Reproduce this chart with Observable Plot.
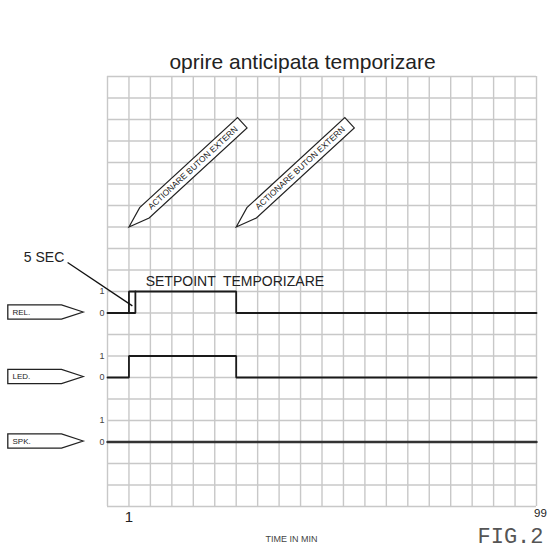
<!DOCTYPE html>
<html><head><meta charset="utf-8">
<script src="https://cdn.jsdelivr.net/npm/d3@7"></script>
<script src="https://cdn.jsdelivr.net/npm/@observablehq/plot@0.6"></script>
<style>
html,body{margin:0;padding:0;background:#fff;}
svg text{white-space:pre;}
</style></head><body><div id="chart"></div>
<script>
// ---- data ----
const title = "oprire anticipata temporizare";
const signals = ["REL.", "LED.", "SPK."];
const signalBase = [9, 6, 3];            // grid row holding the 0 level of each trace
const relTimes = [0, 1, 1, 6, 6, 20];
const relValues = [0, 0, 1, 1, 0, 0];
const relPulseTimes = [1, 1.3, 1.3];
const relPulseValues = [0, 0, 1];
const ledTimes = [0, 1, 1, 6, 6, 20];
const ledValues = [0, 0, 1, 1, 0, 0];
const spkTimes = [0, 20];
const spkValues = [0, 0];
const levelLabels = ["0", "1"];
const tickPositions = [1, 20];
const tickLabels = ["1", "99"];
const buttonTimes = [1, 6];
const buttonLabel = "ACTIONARE BUTON EXTERN";
const setpointLabel = "SETPOINT  TEMPORIZARE";
const pulseLabel = "5 SEC";
const axisLabel = "TIME IN MIN";
const figLabel = "FIG.2";

// ---- build ----
const FONT = "'Liberation Sans', Arial, sans-serif";
const rows = (name, base, ts, vs) => ts.map((t, i) => ({name, t, v: base + vs[i]}));
const relRows = rows("REL.", signalBase[0], relTimes, relValues);
const relPulseRows = rows("REL5", signalBase[0], relPulseTimes, relPulseValues);
const ledRows = rows("LED.", signalBase[1], ledTimes, ledValues);
const spkRows = rows("SPK.", signalBase[2], spkTimes, spkValues);
const levelRows = signals.flatMap((s, i) => levelLabels.map((l, j) => ({label: l, y: signalBase[i] + j})));
const signalRows = signals.map((s, i) => ({name: s, y: signalBase[i]}));
const buttonRow = 13;

const th = 42.6 * Math.PI / 180, c = Math.cos(th), s = Math.sin(th);
const rot = ([u, v]) => [u * c + v * s, -u * s + v * c];
const polySymbol = (pts) => ({
  draw(ctx) {
    pts.forEach((p, i) => i ? ctx.lineTo(p[0], p[1]) : ctx.moveTo(p[0], p[1]));
    ctx.closePath();
  }
});
const pencil = polySymbol([[0, 0], [21, -7], [154, -7], [154, 7], [21, 7]].map(rot));
const tag = polySymbol([[0, 0], [-21.7, -7.2], [-75.4, -7.2], [-75.4, 7.2], [-21.7, 7.2]]);

const gridVals = d3.range(0, 21);

const chart = Plot.plot({
  width: 550, height: 549,
  marginLeft: 107, marginRight: 14, marginTop: 76, marginBottom: 43,
  x: {domain: [0, 20], axis: null},
  y: {domain: [0, 20], axis: null},
  style: {fontFamily: FONT, background: "#fff", color: "#222"},
  marks: [
    Plot.ruleX(gridVals, {x: d => d, stroke: "#c8c8c8", strokeWidth: 1.4, strokeOpacity: 1}),
    Plot.ruleY(gridVals, {y: d => d, stroke: "#c8c8c8", strokeWidth: 1.4, strokeOpacity: 1}),
    // traces
    Plot.line(relRows, {x: "t", y: "v", stroke: "#1a1a1a", strokeWidth: 1.8, strokeLinejoin: "miter"}),
    Plot.line(relPulseRows, {x: "t", y: "v", stroke: "#1a1a1a", strokeWidth: 1.8, strokeLinejoin: "miter"}),
    Plot.line(ledRows, {x: "t", y: "v", stroke: "#1a1a1a", strokeWidth: 1.8, strokeLinejoin: "miter"}),
    Plot.line(spkRows, {x: "t", y: "v", stroke: "#333", strokeWidth: 2.4}),
    // level labels
    Plot.text(levelRows, {y: "y", text: "label", frameAnchor: "left", lineAnchor: "middle", dx: -3, textAnchor: "end", fontSize: 9, fill: "#444"}),
    // signal tags
    Plot.dot(signalRows, {y: "y", frameAnchor: "left", dx: -24.3, dy: -1, symbol: tag, fill: "white", stroke: "#222", strokeWidth: 1.3}),
    Plot.text(signalRows, {y: "y", text: "name", frameAnchor: "left", lineAnchor: "middle", dx: -95, dy: -1, textAnchor: "start", fontSize: 8, fill: "#222"}),
    // pencils
    Plot.dot(buttonTimes, {x: d => d, y: () => buttonRow, symbol: pencil, fill: "white", stroke: "#222", strokeWidth: 1.2}),
    Plot.text(buttonTimes, {x: d => d, y: () => buttonRow, text: () => buttonLabel, dx: 64, dy: -59, rotate: -42.6, fontSize: 8.5, fill: "#222"}),
    // annotations
    Plot.text([setpointLabel], {x: () => 1.78, y: () => 10.45, text: d => d, textAnchor: "start", fontSize: 14, fill: "#222"}),
    Plot.text([pulseLabel], {x: () => -2.96, y: () => 11.6, text: d => d, fontSize: 14, fill: "#222"}),
    Plot.link([pulseLabel], {x1: () => -1.86, y1: () => 11.35, x2: () => 1.16, y2: () => 9.33, stroke: "#111", strokeWidth: 1.3}),
    // x tick labels
    Plot.text([tickLabels[0]], {x: () => tickPositions[0], text: d => d, frameAnchor: "bottom", lineAnchor: "middle", dy: 11, fontSize: 15, fill: "#222"}),
    Plot.text([tickLabels[1]], {x: () => tickPositions[1], text: d => d, frameAnchor: "bottom", lineAnchor: "middle", dx: 4, dy: 7, fontSize: 11.5, fill: "#222"}),
    Plot.text([axisLabel], {text: d => d, frameAnchor: "bottom", lineAnchor: "middle", dx: -30.5, dy: 32.5, fontSize: 9, fill: "#444"}),
    Plot.text([figLabel], {text: d => d, frameAnchor: "bottom-right", lineAnchor: "middle", dx: 7, dy: 29.5, textAnchor: "end", fontSize: 22, fontFamily: "'Liberation Mono', 'Courier New', monospace", fill: "#555"}),
    // title
    Plot.text([title], {text: d => d, frameAnchor: "top", lineAnchor: "middle", dx: -19.5, dy: -14.7, fontSize: 21, fill: "#222"})
  ]
});
document.getElementById("chart").appendChild(chart);
</script></body></html>
